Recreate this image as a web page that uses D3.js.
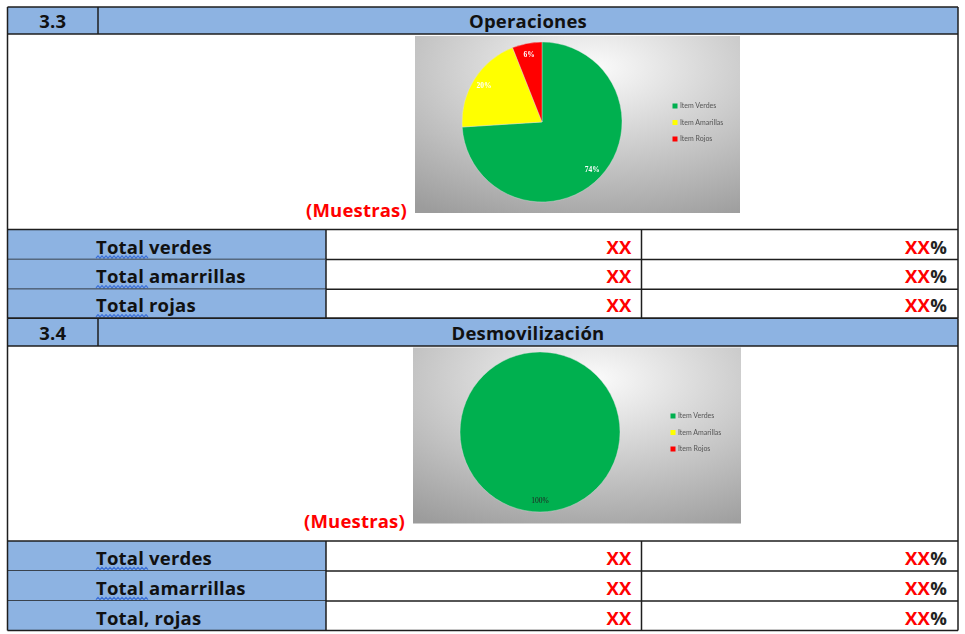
<!DOCTYPE html>
<html>
<head>
<meta charset="utf-8">
<script src="https://cdn.jsdelivr.net/npm/d3@7/dist/d3.min.js"></script>
<style>
  html, body { margin: 0; padding: 0; background: #fff; }
  svg { display: block; }
</style>
</head>
<body>
<script>
// Status categories shared by both pies
const categories = ["Item Verdes", "Item Amarillas", "Item Rojos"];
const categoryColors = ["#00b050", "#ffff00", "#ff0000"];

// Percent shares per section
const operacionesValues = [74, 20, 6];
const desmovilizacionValues = [100, 0, 0];

// Section headings
const sectionNumbers = ["3.3", "3.4"];
const sectionTitles = ["Operaciones", "Desmovilización"];

// Summary row labels per section
const operacionesRows = ["Total verdes", "Total amarrillas", "Total rojas"];
const desmovilizacionRows = ["Total verdes", "Total amarrillas", "Total, rojas"];
// Which row labels get the spell-check squiggle under "Total"
const operacionesSquiggle = [true, true, true];
const desmovilizacionSquiggle = [true, true, false];

const placeholder = "XX";
const sampleNote = "(Muestras)";

const W = 965, H = 634;
const svg = d3.select("body").append("svg").attr("width", W).attr("height", H);

const FONT = "'Open Sans', Lato, sans-serif";
const FS = 18.5;
const LS = 0.2;
const HEAD_FILL = "#8db3e2";
const LINE = "#1e1e1e";

const defs = svg.append("defs");
const grad = defs.append("radialGradient").attr("id", "chartBg")
  .attr("cx", "55%").attr("cy", "18%").attr("r", "95%");
grad.append("stop").attr("offset", "0%").attr("stop-color", "#fbfbfb");
grad.append("stop").attr("offset", "100%").attr("stop-color", "#9c9c9c");
defs.append("filter").attr("id", "soft")
  .attr("x", "-5%").attr("y", "-5%").attr("width", "110%").attr("height", "110%")
  .append("feGaussianBlur").attr("stdDeviation", 0.7);

// Column edges of the table
const xLeft = 7.5, xRight = 958, xNum = 98, xLabelEnd = 326, xValEnd = 641.5;

const sections = [
  { top: 7, headBottom: 34, chartBottom: 229.5, rows: [229.5, 259.5, 289.3, 318.3],
    values: operacionesValues, labels: operacionesRows, squiggle: operacionesSquiggle,
    img: { x: 415, y: 36, w: 325, h: 177 }, cx: 542, cy: 122 },
  { top: 318.3, headBottom: 346, chartBottom: 541, rows: [541, 571, 601, 630.5],
    values: desmovilizacionValues, labels: desmovilizacionRows, squiggle: desmovilizacionSquiggle,
    img: { x: 413, y: 347.5, w: 328, h: 176 }, cx: 540, cy: 432 }
];

const radius = 80;
const pie = d3.pie().sort(null).value(d => d.value);
const arc = d3.arc().innerRadius(0).outerRadius(radius);
const labelArc = d3.arc().innerRadius(radius * 0.86).outerRadius(radius * 0.86);

function boldText(sel) {
  return sel.attr("font-family", FONT).attr("font-weight", 700)
    .attr("font-size", FS).attr("letter-spacing", LS);
}

sections.forEach((s, si) => {
  const g = svg.append("g");

  // Header row
  g.append("rect").attr("x", xLeft).attr("y", s.top)
    .attr("width", xRight - xLeft).attr("height", s.headBottom - s.top)
    .attr("fill", HEAD_FILL);
  boldText(g.append("text")).attr("x", (xLeft + xNum) / 2).attr("y", s.headBottom - 6)
    .attr("text-anchor", "middle").attr("fill", "#111").text(sectionNumbers[si]);
  boldText(g.append("text")).attr("x", (xNum + xRight) / 2).attr("y", s.headBottom - 6)
    .attr("text-anchor", "middle").attr("fill", "#111").text(sectionTitles[si]);

  // Chart picture
  const img = g.append("g").attr("filter", "url(#soft)");
  img.append("rect").attr("x", s.img.x).attr("y", s.img.y)
    .attr("width", s.img.w).attr("height", s.img.h).attr("fill", "url(#chartBg)");

  const data = categories.map((c, i) => ({ name: c, value: s.values[i], color: categoryColors[i] }));
  const arcs = pie(data).filter(d => d.data.value > 0);
  const pg = img.append("g").attr("transform", `translate(${s.cx},${s.cy})`);
  pg.selectAll("path").data(arcs).join("path")
    .attr("d", arc).attr("fill", d => d.data.color)
    .attr("stroke", "#e0e0e0").attr("stroke-width", 0.4);
  const single = arcs.length === 1;
  pg.selectAll("text").data(arcs).join("text")
    .attr("transform", d => `translate(${labelArc.centroid(d)})`)
    .attr("text-anchor", "middle").attr("dy", "0.35em")
    .attr("font-family", "'Liberation Serif', serif").attr("font-size", 7.5)
    .attr("font-weight", single ? 400 : 700)
    .attr("fill", single ? "#222" : "#fff")
    .text(d => d.data.value + "%");

  // Legend
  const lg = img.append("g").attr("transform", `translate(${s.img.x + 260},${s.cy - 16})`);
  categories.forEach((c, i) => {
    lg.append("rect").attr("x", -2.5).attr("y", i * 16.5 - 2.5).attr("width", 5).attr("height", 5)
      .attr("fill", categoryColors[i]);
    lg.append("text").attr("x", 5).attr("y", i * 16.5).attr("dy", "0.35em")
      .attr("font-family", "Lato, sans-serif").attr("font-size", 7).attr("fill", "#555").text(c);
  });

  // Note next to the chart
  boldText(g.append("text")).attr("x", s.img.x - 8).attr("y", s.chartBottom - 13)
    .attr("text-anchor", "end").attr("fill", "#ff0000").text(sampleNote);

  // Summary rows
  s.labels.forEach((lab, i) => {
    const y0 = s.rows[i], y1 = s.rows[i + 1];
    const base = y1 - 6;
    g.append("rect").attr("x", xLeft).attr("y", y0).attr("width", xLabelEnd - xLeft)
      .attr("height", y1 - y0).attr("fill", HEAD_FILL);
    boldText(g.append("text")).attr("x", 96).attr("y", base).attr("fill", "#111").text(lab);
    if (s.squiggle[i]) {
      const pts = d3.range(96, 149, 2).map((x, k) => [x, base + 3.5 + (k % 2 ? -1.1 : 1.1)]);
      g.append("path").attr("d", d3.line()(pts)).attr("fill", "none")
        .attr("stroke", "#3a6fd8").attr("stroke-width", 1.2);
    }
    boldText(g.append("text")).attr("x", xValEnd - 10).attr("y", base).attr("text-anchor", "end")
      .attr("fill", "#ff0000").text(placeholder);
    const pct = boldText(g.append("text")).attr("x", xRight - 11).attr("y", base)
      .attr("text-anchor", "end");
    pct.append("tspan").attr("fill", "#ff0000").text(placeholder);
    pct.append("tspan").attr("fill", "#222").text("%");

    // row grid lines
    g.append("line").attr("x1", xLeft).attr("x2", xRight).attr("y1", y1).attr("y2", y1)
      .attr("stroke", LINE).attr("stroke-width", 1.5);
    g.append("line").attr("x1", xLabelEnd).attr("x2", xLabelEnd).attr("y1", y0).attr("y2", y1)
      .attr("stroke", LINE).attr("stroke-width", 1.5);
    g.append("line").attr("x1", xValEnd).attr("x2", xValEnd).attr("y1", y0).attr("y2", y1)
      .attr("stroke", LINE).attr("stroke-width", 1.5);
  });

  // Header and chart-row borders
  [s.top, s.headBottom, s.chartBottom].forEach(y => {
    g.append("line").attr("x1", xLeft).attr("x2", xRight).attr("y1", y).attr("y2", y)
      .attr("stroke", LINE).attr("stroke-width", 1.5);
  });
  g.append("line").attr("x1", xNum).attr("x2", xNum).attr("y1", s.top).attr("y2", s.headBottom)
    .attr("stroke", LINE).attr("stroke-width", 1.5);
  const last = s.rows[s.rows.length - 1];
  [xLeft, xRight].forEach(x => {
    g.append("line").attr("x1", x).attr("x2", x).attr("y1", s.top).attr("y2", last)
      .attr("stroke", LINE).attr("stroke-width", 1.5);
  });
});
</script>
</body>
</html>
